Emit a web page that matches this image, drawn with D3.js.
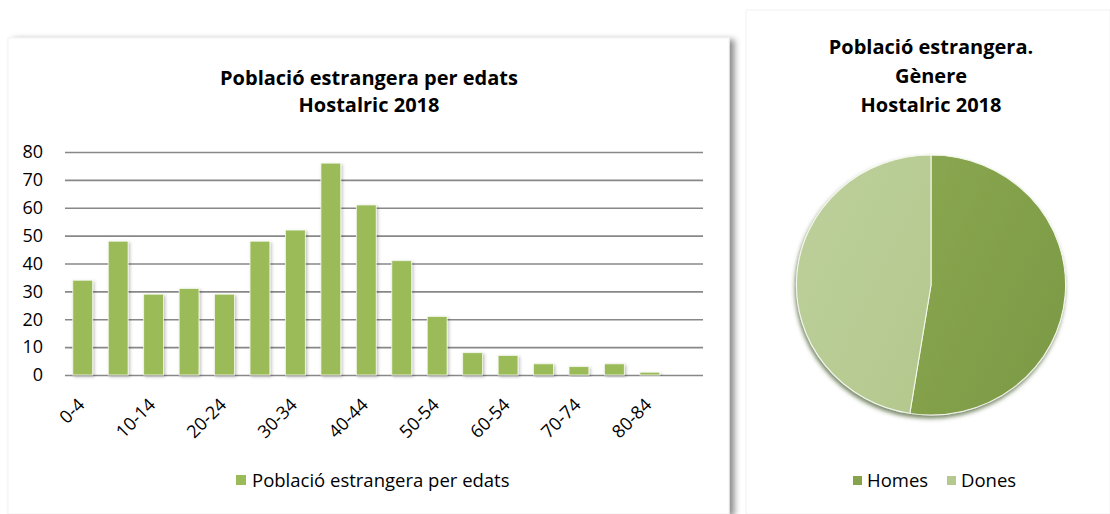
<!DOCTYPE html>
<html>
<head>
<meta charset="utf-8">
<script src="https://cdn.jsdelivr.net/npm/d3@7"></script>
<style>
  body { margin: 0; background: #fff; }
  svg { display: block; font-family: "Open Sans", Lato, sans-serif; }
  svg text { font-family: "Open Sans", Lato, sans-serif; }
  .title { font-weight: bold; font-size: 20px; fill: #000; }
  .legend { font-size: 18.5px; fill: #000; }
</style>
</head>
<body>
<svg width="1110" height="514"></svg>
<script>
// data
const ageGroups = ['0-4', '5-9', '10-14', '15-19', '20-24', '25-29', '30-34', '35-39', '40-44',
  '45-49', '50-54', '55-59', '60-54', '65-69', '70-74', '75-79', '80-84', '85+'];
const ageCounts = [34, 48, 29, 31, 29, 48, 52, 76, 61, 41, 21, 8, 7, 4, 3, 4, 1, 0];
const yTicks = [0, 10, 20, 30, 40, 50, 60, 70, 80];
const genders = ['Homes', 'Dones'];
const genderCounts = [261, 236];
const genderColors = ['#86a34c', '#b5c98f'];

const svg = d3.select('svg');
const defs = svg.append('defs');

const panelShadow = defs.append('filter').attr('id', 'panelShadow')
  .attr('x', '-5%').attr('y', '-5%').attr('width', '115%').attr('height', '115%');
panelShadow.append('feDropShadow')
  .attr('dx', 5).attr('dy', 2).attr('stdDeviation', 3)
  .attr('flood-color', '#000').attr('flood-opacity', 0.45);

const barShadow = defs.append('filter').attr('id', 'barShadow')
  .attr('x', '-30%').attr('y', '-10%').attr('width', '170%').attr('height', '130%');
barShadow.append('feDropShadow')
  .attr('dx', 1.5).attr('dy', 1.5).attr('stdDeviation', 1.5)
  .attr('flood-color', '#000').attr('flood-opacity', 0.25);

const pieShadow = defs.append('filter').attr('id', 'pieShadow')
  .attr('x', '-10%').attr('y', '-10%').attr('width', '120%').attr('height', '125%');
pieShadow.append('feDropShadow')
  .attr('dx', -1).attr('dy', 3).attr('stdDeviation', 2)
  .attr('flood-color', '#3e5420').attr('flood-opacity', 0.7);

// panels
svg.append('rect')
  .attr('x', 8).attr('y', 38).attr('width', 721).attr('height', 476)
  .attr('fill', '#fff').attr('stroke', '#f2f2f2')
  .attr('filter', 'url(#panelShadow)');
svg.append('rect')
  .attr('x', 746).attr('y', 10).attr('width', 364).attr('height', 504)
  .attr('fill', '#fff').attr('stroke', '#f2f2f2');

// ---------- bar chart ----------
const margin = { left: 65, top: 152 };
const innerWidth = 638;
const innerHeight = 223;
const g = svg.append('g')
  .attr('transform', `translate(${margin.left},${margin.top})`);

const xScale = d3.scaleBand()
  .domain(ageGroups)
  .range([0, innerWidth])
  .paddingInner(0.44)
  .paddingOuter(0.22);
const yScale = d3.scaleLinear()
  .domain([0, 80])
  .range([innerHeight, 0]);

const yAxis = d3.axisLeft(yScale)
  .tickValues(yTicks)
  .tickSize(-innerWidth)
  .tickPadding(22);
const yAxisG = g.append('g').call(yAxis);
yAxisG.attr('font-family', null).attr('font-size', null);
yAxisG.select('.domain').remove();
yAxisG.selectAll('.tick line')
  .attr('stroke', '#888')
  .attr('stroke-width', 1.7);
yAxisG.selectAll('.tick text')
  .style('font-size', '18px')
  .attr('fill', '#000');

g.selectAll('rect.bar')
  .data(ageCounts)
  .enter().append('rect')
  .attr('class', 'bar')
  .attr('x', (d, i) => xScale(ageGroups[i]))
  .attr('y', d => yScale(d))
  .attr('width', xScale.bandwidth())
  .attr('height', d => innerHeight - yScale(d))
  .attr('fill', '#9bbb59')
  .attr('stroke', '#f4f8ec')
  .attr('stroke-width', 0.8)
  .attr('filter', 'url(#barShadow)');

// every other label
const xAxis = d3.axisBottom(xScale)
  .tickValues(ageGroups.filter((d, i) => i % 2 === 0))
  .tickSize(0)
  .tickPadding(0);
const xAxisG = g.append('g')
  .attr('transform', `translate(0,${innerHeight})`)
  .call(xAxis);
xAxisG.attr('font-family', null).attr('font-size', null);
xAxisG.select('.domain').remove();
xAxisG.selectAll('.tick text')
  .style('font-size', '18px')
  .attr('fill', '#000')
  .attr('text-anchor', 'end')
  .attr('dy', 0)
  .attr('transform', 'translate(3,31) rotate(-45)');

svg.append('text').attr('class', 'title')
  .attr('x', 369).attr('y', 85).attr('text-anchor', 'middle')
  .text('Població estrangera per edats');
svg.append('text').attr('class', 'title')
  .attr('x', 369).attr('y', 112).attr('text-anchor', 'middle')
  .text('Hostalric 2018');

svg.append('rect')
  .attr('x', 236).attr('y', 475).attr('width', 10).attr('height', 10)
  .attr('fill', '#9bbb59');
svg.append('text').attr('class', 'legend')
  .attr('x', 252).attr('y', 487)
  .text('Població estrangera per edats');

// ---------- pie chart ----------
const pieTitle = ['Població estrangera.', 'Gènere', 'Hostalric 2018'];
svg.selectAll('text.ptitle')
  .data(pieTitle)
  .enter().append('text')
  .attr('class', 'title ptitle')
  .attr('x', 931)
  .attr('y', (d, i) => 54 + i * 29)
  .attr('text-anchor', 'middle')
  .text(d => d);

const gradStops = [['#8eab55', '#7d9a45'], ['#bccf9a', '#afc487']];
gradStops.forEach((s, i) => {
  const grad = defs.append('linearGradient').attr('id', 'pg' + i)
    .attr('gradientUnits', 'userSpaceOnUse')
    .attr('x1', -130).attr('y1', -60).attr('x2', 130).attr('y2', 60);
  grad.append('stop').attr('offset', '0%').attr('stop-color', s[0]);
  grad.append('stop').attr('offset', '100%').attr('stop-color', s[1]);
});

const pie = d3.pie().sort(null);
const arc = d3.arc().innerRadius(0).outerRadius(130);
const pg = svg.append('g')
  .attr('transform', 'translate(931,285) scale(1.035,1)')
  .attr('filter', 'url(#pieShadow)');
pg.selectAll('path')
  .data(pie(genderCounts))
  .enter().append('path')
  .attr('d', arc)
  .attr('fill', (d, i) => `url(#pg${i})`)
  .attr('stroke', '#f4f8ec')
  .attr('stroke-width', 1);

const lg = svg.append('g').attr('transform', 'translate(853,476)');
const legendX = [0, 94];
genders.forEach((name, i) => {
  lg.append('rect')
    .attr('x', legendX[i]).attr('y', 0).attr('width', 9).attr('height', 9)
    .attr('fill', genderColors[i]);
  lg.append('text').attr('class', 'legend')
    .attr('x', legendX[i] + 14).attr('y', 11)
    .text(name);
});
</script>
</body>
</html>
